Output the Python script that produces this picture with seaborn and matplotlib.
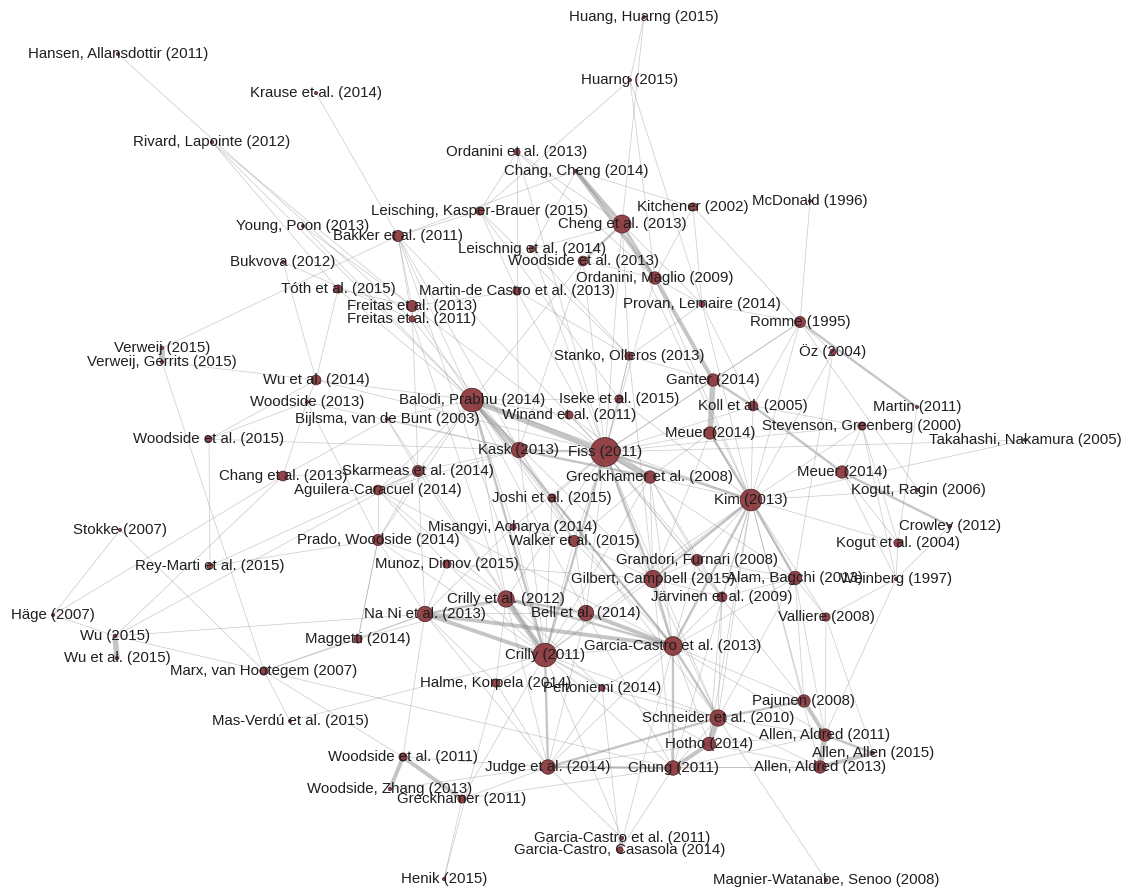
import numpy as np
import pandas as pd
import matplotlib.pyplot as plt
from matplotlib.collections import LineCollection
import seaborn as sns

# nodes: id, label, layout position (x, y), weighted degree
node_id = [
    "hansen11", "krause14", "rivard12", "huang15", "huarng15", "ordan13", "changch14",
    "leisch15", "kitch02", "mcdon96", "cheng13", "young13", "bakker11", "leischn14",
    "woods13b", "bukv12", "ordan09", "toth15", "mdc13", "freit13", "freit11",
    "provan14", "romme95", "verw15", "verwg15", "oz04", "stanko13", "wu14",
    "balodi14", "ganter14", "iseke15", "woods13", "koll05", "winand11", "bijl03",
    "martin11", "steven00", "takah05", "woods15", "meuer14a", "kask13", "fiss11",
    "greck08", "meuer14b", "skarm14", "chang13", "aguil14", "kogutr06", "joshi15",
    "kim13", "misang14", "crowl12", "stokke07", "prado14", "walker15", "kogut04",
    "munoz15", "grand08", "reym15", "gilb15", "alam13", "weinb97", "jarv09",
    "crilly12", "bell14", "nani13", "hage07", "vall08", "wu15", "magg14",
    "gc13", "crilly11", "wuet15", "marx07", "halme14", "pelto14", "pajun08",
    "schn10", "masv15", "allen11", "hotho14", "allen15", "woods11", "judge14",
    "chung11", "allen13", "woodz13", "greck11", "gc11", "gcc14", "henik15", "magn08",
]
node_label = [
    "Hansen, Allansdottir (2011)", "Krause et al. (2014)", "Rivard, Lapointe (2012)",
    "Huang, Huarng (2015)", "Huarng (2015)", "Ordanini et al. (2013)", "Chang, Cheng (2014)",
    "Leisching, Kasper-Brauer (2015)", "Kitchener (2002)", "McDonald (1996)",
    "Cheng et al. (2013)", "Young, Poon (2013)", "Bakker et al. (2011)",
    "Leischnig et al. (2014)", "Woodside et al. (2013)", "Bukvova (2012)",
    "Ordanini, Maglio (2009)", "Tóth et al. (2015)", "Martin-de Castro et al. (2013)",
    "Freitas et al. (2013)", "Freitas et al. (2011)", "Provan, Lemaire (2014)",
    "Romme (1995)", "Verweij (2015)", "Verweij, Gerrits (2015)", "Öz (2004)",
    "Stanko, Olleros (2013)", "Wu et al. (2014)", "Balodi, Prabhu (2014)", "Ganter (2014)",
    "Iseke et al. (2015)", "Woodside (2013)", "Koll et al. (2005)", "Winand et al. (2011)",
    "Bijlsma, van de Bunt (2003)", "Martin (2011)", "Stevenson, Greenberg (2000)",
    "Takahashi, Nakamura (2005)", "Woodside et al. (2015)", "Meuer (2014)", "Kask (2013)",
    "Fiss (2011)", "Greckhamer et al. (2008)", "Meuer (2014)", "Skarmeas et al. (2014)",
    "Chang et al. (2013)", "Aguilera-Caracuel (2014)", "Kogut, Ragin (2006)",
    "Joshi et al. (2015)", "Kim (2013)", "Misangyi, Acharya (2014)", "Crowley (2012)",
    "Stokke (2007)", "Prado, Woodside (2014)", "Walker et al. (2015)", "Kogut et al. (2004)",
    "Munoz, Dimov (2015)", "Grandori, Furnari (2008)", "Rey-Marti et al. (2015)",
    "Gilbert, Campbell (2015)", "Alam, Bagchi (2013)", "Weinberg (1997)",
    "Järvinen et al. (2009)", "Crilly et al. (2012)", "Bell et al. (2014)",
    "Na Ni et al. (2013)", "Häge (2007)", "Valliere (2008)", "Wu (2015)", "Maggetti (2014)",
    "Garcia-Castro et al. (2013)", "Crilly (2011)", "Wu et al. (2015)",
    "Marx, van Hootegem (2007)", "Halme, Korpela (2014)", "Peltoniemi (2014)",
    "Pajunen (2008)", "Schneider et al. (2010)", "Mas-Verdú et al. (2015)",
    "Allen, Aldred (2011)", "Hotho (2014)", "Allen, Allen (2015)", "Woodside et al. (2011)",
    "Judge et al. (2014)", "Chung (2011)", "Allen, Aldred (2013)", "Woodside, Zhang (2013)",
    "Greckhamer (2011)", "Garcia-Castro et al. (2011)", "Garcia-Castro, Casasola (2014)",
    "Henik (2015)", "Magnier-Watanabe, Senoo (2008)",
]
node_x = [
    118, 316, 212, 644, 630, 517, 576, 480, 693, 810, 622, 303, 398, 532, 583, 283,
    655, 338, 517, 412, 412, 702, 800, 162, 162, 833, 629, 316, 472, 713, 619, 307,
    753, 569, 387, 917, 862, 1025, 209, 710, 519, 605, 650, 842, 418, 283, 378, 918,
    552, 751, 513, 950, 120, 378, 574, 898, 447, 697, 210, 653, 795, 896, 722, 506,
    586, 425, 53, 826, 115, 358, 673, 545, 117, 264, 496, 602, 804, 718, 290, 825,
    709, 873, 403, 548, 673, 820, 390, 462, 622, 620, 444, 826,
]
node_y = [
    54, 93, 142, 17, 80, 152, 171, 211, 207, 201, 224, 226, 236, 249, 261, 262,
    278, 289, 291, 306, 319, 304, 322, 348, 362, 352, 356, 380, 400, 380, 399, 402,
    406, 415, 419, 407, 426, 440, 439, 433, 450, 452, 477, 472, 471, 476, 490, 490,
    498, 500, 527, 526, 530, 540, 541, 543, 564, 560, 566, 579, 578, 579, 597, 599,
    613, 614, 615, 617, 636, 639, 646, 655, 658, 671, 683, 688, 701, 718, 721, 735,
    744, 753, 757, 767, 768, 767, 789, 799, 838, 850, 879, 880,
]
node_weight = [
    1, 1, 1, 1, 1, 2, 1, 3, 3, 1, 12, 1, 5, 2, 4, 1,
    6, 3, 3, 5, 2, 2, 5, 1, 1, 2, 3, 4, 20, 6, 3, 1,
    4, 3, 1, 1, 3, 1, 2, 6, 9, 30, 6, 6, 5, 4, 4, 1,
    3, 17, 2, 1, 1, 5, 5, 3, 3, 5, 2, 11, 7, 1, 4, 10,
    9, 9, 1, 3, 1, 3, 13, 20, 1, 3, 3, 2, 6, 10, 1, 6,
    7, 1, 3, 8, 8, 6, 1, 3, 1, 2, 1, 1,
]

# co-citation links, grouped by weight
edges_w4 = [
    ("balodi14", "fiss11"), ("fiss11", "greck08"), ("ganter14", "meuer14a"),
    ("crilly11", "crilly12"), ("verw15", "verwg15"), ("wu15", "wuet15"),
    ("allen11", "allen13"), ("schn10", "hotho14"),
]
edges_w3 = [
    ("changch14", "ordan09"), ("cheng13", "changch14"), ("ordan09", "ganter14"),
    ("gc13", "bell14"), ("nani13", "gc13"), ("pajun08", "allen11"), ("allen13", "allen15"),
    ("woods11", "woodz13"), ("woods11", "greck11"), ("gc11", "gcc14"),
    ("hotho14", "chung11"), ("crilly11", "nani13"), ("balodi14", "kask13"),
]
edges_w2 = [
    ("cheng13", "ordan09"), ("meuer14a", "kim13"), ("kim13", "alam13"), ("kim13", "fiss11"),
    ("kim13", "gilb15"), ("kim13", "gc13"), ("fiss11", "gilb15"), ("fiss11", "kask13"),
    ("fiss11", "crilly11"), ("balodi14", "crilly11"), ("balodi14", "gc13"),
    ("crilly12", "gc13"), ("nani13", "crilly12"), ("gc13", "schn10"), ("gc13", "chung11"),
    ("judge14", "chung11"), ("judge14", "schn10"), ("allen11", "allen15"),
    ("ganter14", "koll05"), ("koll05", "meuer14b"), ("meuer14b", "crowl12"),
    ("romme95", "martin11"), ("crilly11", "judge14"), ("gc13", "gilb15"),
    ("bell14", "crilly12"), ("schn10", "pajun08"), ("cheng13", "woods13b"),
    ("kask13", "greck08"),
]
edges_w1 = [
    ("hansen11", "freit11"), ("krause14", "bakker11"), ("rivard12", "toth15"),
    ("rivard12", "freit13"), ("rivard12", "balodi14"), ("huang15", "cheng13"),
    ("huang15", "huarng15"), ("huarng15", "leisch15"), ("huarng15", "ordan09"),
    ("huarng15", "provan14"), ("kitch02", "romme95"), ("kitch02", "changch14"),
    ("kitch02", "provan14"), ("mcdon96", "romme95"), ("young13", "freit13"),
    ("young13", "balodi14"), ("bukv12", "wu14"), ("bukv12", "freit11"),
    ("verw15", "bakker11"), ("verwg15", "wu14"), ("verwg15", "marx07"), ("toth15", "wu14"),
    ("toth15", "freit13"), ("toth15", "balodi14"), ("wu14", "balodi14"), ("wu14", "fiss11"),
    ("wu14", "woods13"), ("woods13", "woods15"), ("woods13", "chang13"),
    ("woods13", "kask13"), ("woods13", "prado14"), ("woods15", "reym15"),
    ("woods15", "kask13"), ("woods15", "wu14"), ("chang13", "skarm14"),
    ("chang13", "bijl03"), ("chang13", "hage07"), ("stokke07", "hage07"),
    ("stokke07", "marx07"), ("wu15", "skarm14"), ("reym15", "prado14"),
    ("reym15", "skarm14"), ("hage07", "wu15"), ("wu15", "nani13"), ("wu15", "marx07"),
    ("wu15", "chang13"), ("marx07", "magg14"), ("marx07", "nani13"), ("marx07", "masv15"),
    ("marx07", "woods11"), ("marx07", "chung11"), ("masv15", "crilly11"),
    ("magg14", "nani13"), ("magg14", "crilly12"), ("magg14", "prado14"),
    ("woods11", "judge14"), ("woods11", "nani13"), ("woodz13", "judge14"),
    ("greck11", "henik15"), ("greck11", "judge14"), ("greck11", "crilly11"),
    ("greck11", "chung11"), ("henik15", "halme14"), ("gc11", "crilly11"),
    ("gc11", "judge14"), ("gcc14", "chung11"), ("gcc14", "gc13"), ("gcc14", "pelto14"),
    ("magn08", "schn10"), ("allen11", "vall08"), ("allen11", "weinb97"),
    ("allen13", "chung11"), ("allen13", "hotho14"), ("allen13", "schn10"),
    ("allen15", "vall08"), ("pajun08", "kim13"), ("pajun08", "gc13"), ("pajun08", "fiss11"),
    ("pajun08", "alam13"), ("vall08", "alam13"), ("vall08", "kim13"), ("vall08", "weinb97"),
    ("weinb97", "kogut04"), ("weinb97", "meuer14b"), ("crowl12", "weinb97"),
    ("kogut04", "meuer14b"), ("kogut04", "steven00"), ("kogut04", "kim13"),
    ("kogut04", "martin11"), ("kogutr06", "kim13"), ("kogutr06", "romme95"),
    ("takah05", "kim13"), ("takah05", "fiss11"), ("steven00", "koll05"),
    ("steven00", "meuer14b"), ("steven00", "weinb97"), ("steven00", "kim13"),
    ("steven00", "fiss11"), ("oz04", "romme95"), ("oz04", "alam13"), ("oz04", "kim13"),
    ("romme95", "kim13"), ("romme95", "provan14"), ("romme95", "koll05"),
    ("romme95", "fiss11"), ("romme95", "ganter14"), ("koll05", "kim13"), ("koll05", "fiss11"),
    ("meuer14a", "fiss11"), ("meuer14a", "greck08"), ("meuer14a", "alam13"),
    ("meuer14a", "gilb15"), ("ganter14", "fiss11"), ("ganter14", "stanko13"),
    ("ordan13", "cheng13"), ("ordan13", "ordan09"), ("ordan13", "mdc13"),
    ("ordan13", "fiss11"), ("ordan13", "leisch15"), ("changch14", "bakker11"),
    ("changch14", "leischn14"), ("leisch15", "stanko13"), ("leisch15", "mdc13"),
    ("leisch15", "bakker11"), ("leisch15", "iseke15"), ("leischn14", "cheng13"),
    ("leischn14", "fiss11"), ("leischn14", "stanko13"), ("woods13b", "ordan09"),
    ("woods13b", "fiss11"), ("woods13b", "balodi14"), ("woods13b", "kask13"),
    ("cheng13", "stanko13"), ("cheng13", "provan14"), ("cheng13", "fiss11"),
    ("cheng13", "kim13"), ("ordan09", "kitch02"), ("ordan09", "fiss11"),
    ("ordan09", "provan14"), ("ordan09", "kim13"), ("bakker11", "freit13"),
    ("bakker11", "freit11"), ("bakker11", "balodi14"), ("bakker11", "fiss11"),
    ("bakker11", "kask13"), ("bakker11", "crilly11"), ("mdc13", "fiss11"),
    ("mdc13", "kask13"), ("mdc13", "freit13"), ("mdc13", "stanko13"),
    ("freit13", "freit11"), ("freit13", "balodi14"), ("freit13", "fiss11"),
    ("freit13", "skarm14"), ("freit11", "kask13"), ("freit11", "crilly12"),
    ("provan14", "kim13"), ("provan14", "koll05"), ("provan14", "stanko13"),
    ("stanko13", "fiss11"), ("stanko13", "iseke15"), ("stanko13", "gilb15"),
    ("iseke15", "fiss11"), ("iseke15", "balodi14"), ("iseke15", "kim13"),
    ("winand11", "fiss11"), ("winand11", "balodi14"), ("winand11", "greck08"),
    ("bijl03", "kask13"), ("bijl03", "skarm14"), ("bijl03", "balodi14"),
    ("bijl03", "crilly11"), ("kask13", "skarm14"), ("kask13", "crilly11"),
    ("kask13", "joshi15"), ("kask13", "aguil14"), ("kask13", "walker15"),
    ("fiss11", "joshi15"), ("fiss11", "walker15"), ("fiss11", "grand08"),
    ("fiss11", "alam13"), ("fiss11", "gc13"), ("fiss11", "schn10"), ("fiss11", "bell14"),
    ("fiss11", "crilly12"), ("fiss11", "jarv09"), ("fiss11", "misang14"),
    ("greck08", "kim13"), ("greck08", "gilb15"), ("greck08", "gc13"),
    ("greck08", "crilly11"), ("greck08", "jarv09"), ("greck08", "grand08"),
    ("greck08", "walker15"), ("balodi14", "skarm14"), ("balodi14", "aguil14"),
    ("balodi14", "prado14"), ("balodi14", "crilly12"), ("balodi14", "misang14"),
    ("balodi14", "walker15"), ("balodi14", "gilb15"), ("balodi14", "kim13"),
    ("balodi14", "schn10"), ("balodi14", "bell14"), ("skarm14", "aguil14"),
    ("skarm14", "prado14"), ("skarm14", "crilly11"), ("skarm14", "nani13"),
    ("aguil14", "prado14"), ("aguil14", "crilly12"), ("aguil14", "gc13"),
    ("aguil14", "munoz15"), ("prado14", "munoz15"), ("prado14", "nani13"),
    ("prado14", "crilly11"), ("prado14", "magg14"), ("joshi15", "crilly11"),
    ("joshi15", "gc13"), ("joshi15", "walker15"), ("misang14", "crilly11"),
    ("misang14", "walker15"), ("misang14", "nani13"), ("walker15", "crilly11"),
    ("walker15", "gc13"), ("walker15", "bell14"), ("walker15", "gilb15"),
    ("munoz15", "crilly11"), ("munoz15", "crilly12"), ("munoz15", "nani13"),
    ("munoz15", "gilb15"), ("grand08", "kim13"), ("grand08", "gilb15"),
    ("grand08", "gc13"), ("grand08", "jarv09"), ("grand08", "alam13"),
    ("gilb15", "crilly11"), ("gilb15", "jarv09"), ("gilb15", "schn10"),
    ("gilb15", "chung11"), ("gilb15", "alam13"), ("alam13", "gc13"), ("alam13", "jarv09"),
    ("alam13", "schn10"), ("alam13", "allen11"), ("jarv09", "gc13"), ("jarv09", "kim13"),
    ("jarv09", "schn10"), ("jarv09", "hotho14"), ("kim13", "schn10"), ("kim13", "hotho14"),
    ("kim13", "chung11"), ("kim13", "crilly11"), ("kim13", "bell14"), ("kim13", "allen13"),
    ("crilly12", "judge14"), ("crilly12", "halme14"), ("crilly12", "pelto14"),
    ("bell14", "crilly11"), ("bell14", "judge14"), ("bell14", "chung11"),
    ("nani13", "judge14"), ("nani13", "halme14"), ("nani13", "bell14"),
    ("gc13", "hotho14"), ("gc13", "crilly11"), ("gc13", "pelto14"), ("gc13", "allen11"),
    ("gc13", "judge14"), ("crilly11", "halme14"), ("crilly11", "pelto14"),
    ("crilly11", "schn10"), ("crilly11", "chung11"), ("crilly11", "hotho14"),
    ("halme14", "judge14"), ("pelto14", "judge14"), ("pelto14", "schn10"),
    ("schn10", "chung11"), ("schn10", "allen11"), ("hotho14", "allen11"),
    ("judge14", "hotho14"), ("judge14", "allen13"), ("chung11", "allen11"),
]

sns.set_theme(style="white")
plt.rcParams['font.family'] = ['Liberation Sans', 'DejaVu Sans']

nodes = pd.DataFrame({"id": node_id, "label": node_label, "x": node_x,
                      "y": node_y, "w": node_weight})
pos = {k: (x, y) for k, x, y in zip(node_id, node_x, node_y)}

fig = plt.figure(figsize=(11.32, 8.93), dpi=100)
ax = fig.add_axes([0, 0, 1, 1])

# edges: thin ones first, thick ones on top
for group, w in [(edges_w1, 1), (edges_w2, 2), (edges_w3, 3), (edges_w4, 4)]:
    segs = [[pos[a], pos[b]] for a, b in group]
    lc = LineCollection(segs, linewidths=0.55 + 1.15 * (w - 1),
                        colors=[(0.55, 0.55, 0.55, 0.42 if w == 1 else 0.5)],
                        zorder=1, capstyle="round")
    ax.add_collection(lc)

sns.scatterplot(data=nodes, x="x", y="y", size="w", sizes=(5, 430),
                size_norm=(1, 30), color="#8e3b40", edgecolor="#4e2226",
                linewidth=0.6, alpha=0.95, legend=False, ax=ax, zorder=2)

for _, r in nodes.iterrows():
    ax.text(r.x, r.y, r.label, ha="center", va="center", fontsize=10.8,
            color="#1f1f1f", zorder=3)

ax.set_xlim(0, 1132)
ax.set_ylim(893, 0)
ax.axis("off")
fig.savefig("out.png", dpi=100, facecolor="white")
